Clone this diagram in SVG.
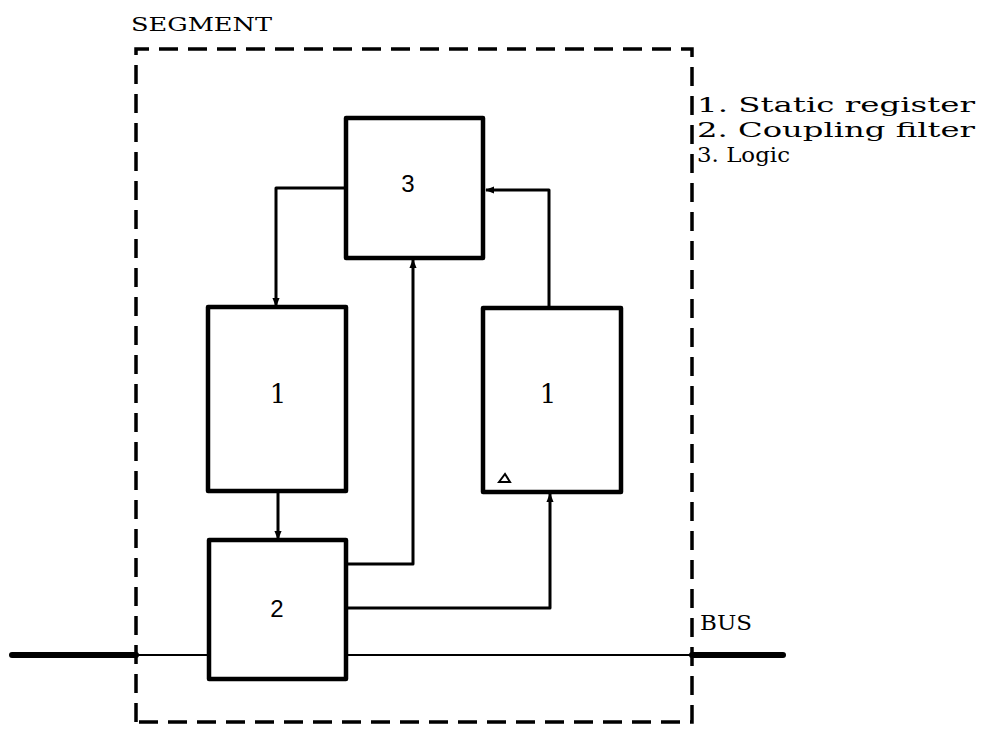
<svg xmlns="http://www.w3.org/2000/svg" width="984" height="730" viewBox="0 0 984 730">
<defs>
<style>
.box{fill:#fff;stroke:#000;stroke-width:4.5;stroke-linejoin:round}
.con{fill:none;stroke:#000;stroke-width:3;stroke-linejoin:round}
.dash{fill:none;stroke:#000;stroke-width:3.5;stroke-dasharray:19 10}
.serif{font-family:"DejaVu Serif","Liberation Serif",serif;fill:#000}
.sans{font-family:"Liberation Sans","DejaVu Sans",sans-serif;fill:#000}
</style>
<marker id="ah" viewBox="0 0 10 10" refX="9" refY="5" markerWidth="3" markerHeight="3" orient="auto" markerUnits="strokeWidth">
<path d="M0,1 L10,5 L0,9 Z" fill="#000"/>
</marker>
</defs>
<rect width="984" height="730" fill="#fff"/>
<g id="segment">
<path class="dash" d="M136,722 L136,49 L692,49 L692,722 L136,722"/>
<text class="serif" x="131" y="31" font-size="19" textLength="141" lengthAdjust="spacingAndGlyphs">SEGMENT</text>
</g>
<g id="bus">
<line x1="12" y1="655" x2="136" y2="655" stroke="#000" stroke-width="6" stroke-linecap="round"/>
<line x1="136" y1="655" x2="209" y2="655" stroke="#000" stroke-width="2"/>
<line x1="346" y1="655" x2="692" y2="655" stroke="#000" stroke-width="2"/>
<line x1="692" y1="655" x2="783" y2="655" stroke="#000" stroke-width="6" stroke-linecap="round"/>
<text class="serif" x="700" y="630" font-size="20" textLength="52" lengthAdjust="spacingAndGlyphs">BUS</text>
</g>
<g id="connectors">
<path class="con" d="M346,188 L276,188 L276,306" marker-end="url(#ah)"/>
<path class="con" d="M549,307 L549,190 L486,190" marker-end="url(#ah)"/>
<path class="con" d="M278,491 L278,539" marker-end="url(#ah)"/>
<path class="con" d="M346,564 L413,564 L413,260" marker-end="url(#ah)"/>
<path class="con" d="M346,608 L550,608 L550,494" marker-end="url(#ah)"/>
</g>
<g id="logic">
<rect class="box" x="346" y="118" width="137" height="140"/>
<text class="sans" x="408" y="192" font-size="24" text-anchor="middle">3</text>
</g>
<g id="register1">
<rect class="box" x="208" y="307" width="138" height="184"/>
<text class="serif" x="278" y="403" font-size="26" text-anchor="middle">1</text>
</g>
<g id="register2">
<rect class="box" x="483" y="308" width="138" height="184"/>
<text class="serif" x="548" y="403" font-size="26" text-anchor="middle">1</text>
<path d="M499,482 L505,474 L510,482 Z" fill="none" stroke="#000" stroke-width="2"/>
</g>
<g id="filter">
<rect class="box" x="209" y="540" width="137" height="139"/>
<text class="sans" x="277" y="617" font-size="24" text-anchor="middle">2</text>
</g>
<g id="legend">
<text class="serif" x="697" y="112" font-size="20" textLength="278" lengthAdjust="spacingAndGlyphs">1. Static register</text>
<text class="serif" x="697" y="137" font-size="20" textLength="278" lengthAdjust="spacingAndGlyphs">2. Coupling filter</text>
<text class="serif" x="697" y="162" font-size="20" textLength="93" lengthAdjust="spacingAndGlyphs">3. Logic</text>
</g>
</svg>
